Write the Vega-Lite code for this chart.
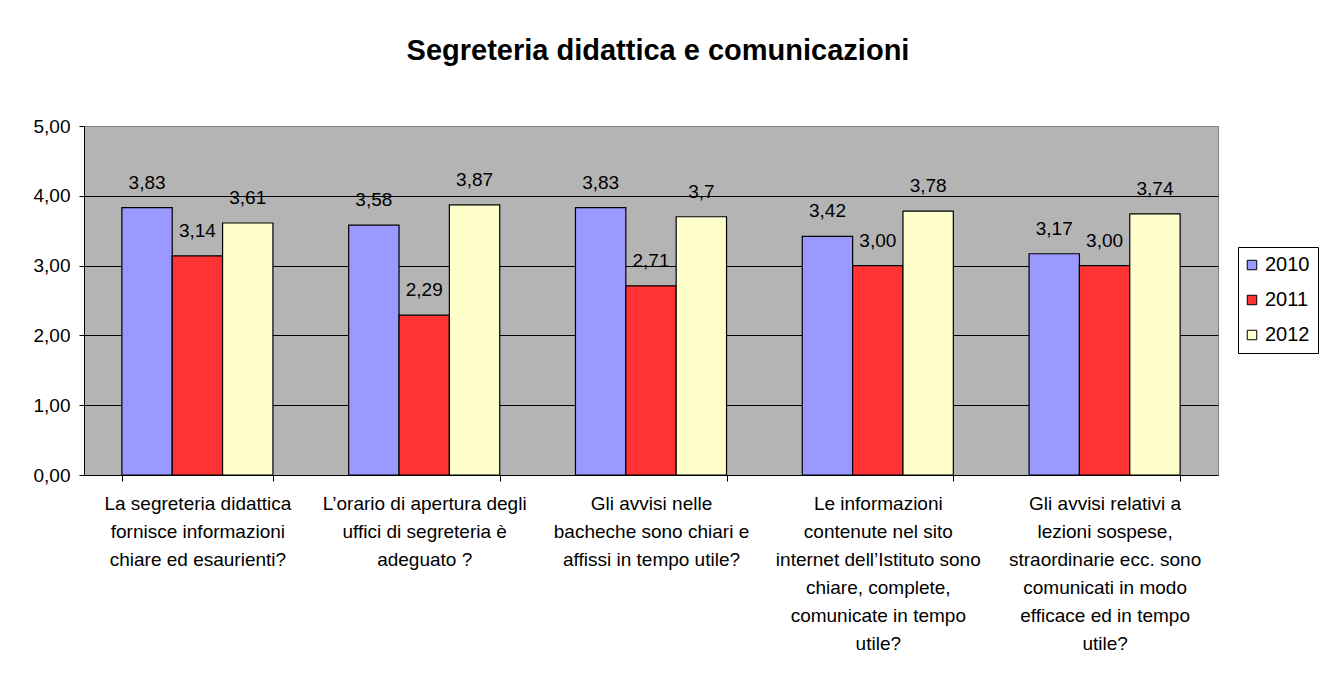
{
  "$schema": "https://vega.github.io/schema/vega-lite/v6.json",
  "autosize": {"type": "none"},
  "padding": {"left": 84, "top": 126, "right": 105, "bottom": 202},
  "width": 1134,
  "height": 349,
  "background": "white",
  "title": {
    "text": "Segreteria didattica e comunicazioni",
    "font": "Liberation Sans",
    "fontSize": 29,
    "fontWeight": "bold",
    "color": "black",
    "anchor": "middle",
    "frame": "group",
    "offset": 51,
    "dx": 7
  },
  "data": {
    "values": [
      {"question": "La segreteria didattica|fornisce informazioni|chiare ed esaurienti?", "year": "2010", "value": 3.83, "label": "3,83"},
      {"question": "La segreteria didattica|fornisce informazioni|chiare ed esaurienti?", "year": "2011", "value": 3.14, "label": "3,14"},
      {"question": "La segreteria didattica|fornisce informazioni|chiare ed esaurienti?", "year": "2012", "value": 3.61, "label": "3,61"},
      {"question": "L’orario di apertura degli|uffici di segreteria è|adeguato ?", "year": "2010", "value": 3.58, "label": "3,58"},
      {"question": "L’orario di apertura degli|uffici di segreteria è|adeguato ?", "year": "2011", "value": 2.29, "label": "2,29"},
      {"question": "L’orario di apertura degli|uffici di segreteria è|adeguato ?", "year": "2012", "value": 3.87, "label": "3,87"},
      {"question": "Gli avvisi nelle|bacheche sono chiari e|affissi in tempo utile?", "year": "2010", "value": 3.83, "label": "3,83"},
      {"question": "Gli avvisi nelle|bacheche sono chiari e|affissi in tempo utile?", "year": "2011", "value": 2.71, "label": "2,71"},
      {"question": "Gli avvisi nelle|bacheche sono chiari e|affissi in tempo utile?", "year": "2012", "value": 3.7, "label": "3,7"},
      {"question": "Le informazioni|contenute nel sito|internet dell’Istituto sono|chiare, complete,|comunicate in tempo|utile?", "year": "2010", "value": 3.42, "label": "3,42"},
      {"question": "Le informazioni|contenute nel sito|internet dell’Istituto sono|chiare, complete,|comunicate in tempo|utile?", "year": "2011", "value": 3.0, "label": "3,00"},
      {"question": "Le informazioni|contenute nel sito|internet dell’Istituto sono|chiare, complete,|comunicate in tempo|utile?", "year": "2012", "value": 3.78, "label": "3,78"},
      {"question": "Gli avvisi relativi a|lezioni sospese,|straordinarie ecc. sono|comunicati in modo|efficace ed in tempo|utile?", "year": "2010", "value": 3.17, "label": "3,17"},
      {"question": "Gli avvisi relativi a|lezioni sospese,|straordinarie ecc. sono|comunicati in modo|efficace ed in tempo|utile?", "year": "2011", "value": 3.0, "label": "3,00"},
      {"question": "Gli avvisi relativi a|lezioni sospese,|straordinarie ecc. sono|comunicati in modo|efficace ed in tempo|utile?", "year": "2012", "value": 3.74, "label": "3,74"}
    ]
  },
  "encoding": {
    "x": {
      "field": "question",
      "type": "nominal",
      "sort": null,
      "title": null,
      "scale": {"paddingInner": 0.334, "paddingOuter": 0.167},
      "axis": {
        "labelExpr": "split(datum.label, '|')",
        "labelAngle": 0,
        "labelLimit": 0,
        "labelOverlap": false,
        "labelBaseline": "top",
        "labelLineHeight": 28,
        "labelFont": "Liberation Sans",
        "labelFontSize": 19,
        "labelColor": "black",
        "labelPadding": 13,
        "tickBand": "extent",
        "tickSize": 6,
        "tickColor": "black",
        "domainColor": "black",
        "grid": false
      }
    },
    "xOffset": {"field": "year", "type": "nominal", "sort": ["2010", "2011", "2012"]},
    "y": {
      "field": "value",
      "type": "quantitative",
      "title": null,
      "scale": {"domain": [0, 5]},
      "axis": {
        "values": [0, 1, 2, 3, 4, 5],
        "labelExpr": "replace(format(datum.value, '.2f'), '.', ',')",
        "labelFont": "Liberation Sans",
        "labelFontSize": 19,
        "labelColor": "black",
        "labelPadding": 9,
        "tickSize": 5,
        "tickColor": "black",
        "domainColor": "black",
        "grid": true,
        "gridColor": {"condition": {"test": "datum.value >= 5", "value": "#808080"}, "value": "black"},
        "gridWidth": 1
      }
    }
  },
  "layer": [
    {
      "mark": {"type": "bar", "stroke": "black", "strokeWidth": 1.2},
      "encoding": {
        "color": {
          "field": "year",
          "type": "nominal",
          "scale": {"domain": ["2010", "2011", "2012"], "range": ["#9999FF", "#FF3333", "#FFFFCC"]},
          "legend": {
            "title": null,
            "orient": "none",
            "legendX": 1154,
            "legendY": 121,
            "strokeColor": "black",
            "fillColor": "white",
            "padding": 8,
            "labelFont": "Liberation Sans",
            "labelFontSize": 20,
            "labelColor": "black",
            "labelOffset": 3,
            "symbolOffset": -4,
            "symbolType": "square",
            "symbolSize": 90,
            "symbolStrokeColor": "black",
            "symbolStrokeWidth": 1,
            "symbolOpacity": 1,
            "rowPadding": 15
          }
        }
      }
    },
    {
      "mark": {"type": "text", "baseline": "alphabetic", "dy": -19, "font": "Liberation Sans", "fontSize": 19, "color": "black"},
      "encoding": {
        "text": {"field": "label"}
      }
    }
  ],
  "config": {
    "view": {"fill": "#B4B4B4", "stroke": "#808080", "strokeWidth": 1}
  }
}
